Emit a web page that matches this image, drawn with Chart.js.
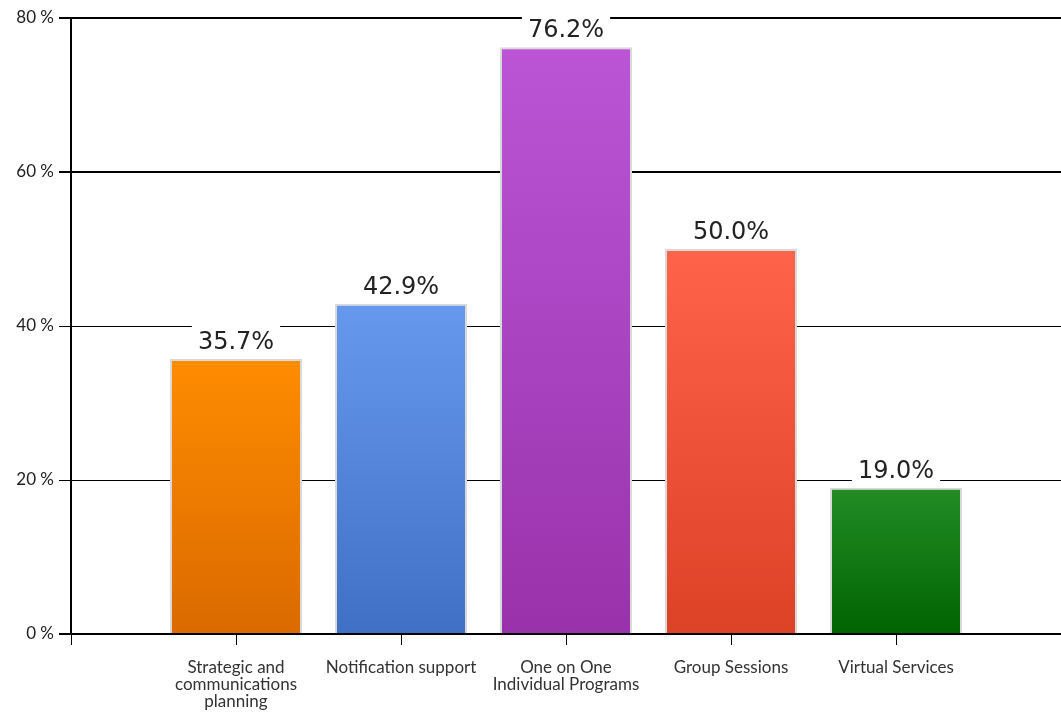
<!DOCTYPE html>
<html>
<head>
<meta charset="utf-8">
<script src="https://cdn.jsdelivr.net/npm/chart.js@4.4.1/dist/chart.umd.min.js"></script>
<style>
html,body{margin:0;padding:0;background:#fff;}
#wrap{width:1061px;height:713px;position:relative;}
</style>
</head>
<body>
<div id="wrap"><canvas id="c"></canvas></div>
<script>
// ---- data ----
const categories = [
  "",
  ["Strategic and", "communications", "planning"],
  "Notification support",
  ["One on One", "Individual Programs"],
  "Group Sessions",
  "Virtual Services",
  ""
];
const values = [null, 35.7, 42.9, 76.2, 50.0, 19.0, null];
const yTicks = [0, 20, 40, 60, 80];

// ---- styles ----
const topColors = [null, "#ff8c00", "#6699ee", "#bb55d6", "#ff634a", "#238c25", null];
const bottomColors = [null, "#da6a00", "#4070c6", "#9932aa", "#dc4226", "#006400", null];

const labelPlugin = {
  id: "valueLabels",
  afterDatasetsDraw(chart) {
    const ctx = chart.ctx;
    const meta = chart.getDatasetMeta(0);
    ctx.save();
    ctx.font = "24px 'DejaVu Sans'";
    ctx.textAlign = "center";
    ctx.textBaseline = "alphabetic";
    meta.data.forEach((bar, i) => {
      const v = values[i];
      if (v === null || v === undefined) return;
      const txt = v.toFixed(1) + "%";
      const w = ctx.measureText(txt).width;
      const baseY = bar.y - 10;
      ctx.fillStyle = "#ffffff";
      ctx.fillRect(bar.x - w / 2 - 6, baseY - 24, w + 12, 28);
      ctx.fillStyle = "#222222";
      ctx.fillText(txt, bar.x, baseY);
    });
    ctx.restore();
  }
};

new Chart(document.getElementById("c"), {
  type: "bar",
  data: {
    labels: categories,
    datasets: [{
      data: values,
      backgroundColor(ctx) {
        const chart = ctx.chart;
        const area = chart.chartArea;
        const i = ctx.dataIndex;
        if (!area || values[i] === null) return "#ccc";
        const yTop = chart.scales.y.getPixelForValue(values[i]);
        const g = chart.ctx.createLinearGradient(0, yTop, 0, area.bottom);
        g.addColorStop(0, topColors[i]);
        g.addColorStop(1, bottomColors[i]);
        return g;
      },
      borderColor: "#d9d9d9",
      borderWidth: 2,
      borderSkipped: "bottom",
      barPercentage: 0.8,
      categoryPercentage: 1.0
    }]
  },
  options: {
    responsive: true,
    maintainAspectRatio: false,
    animation: false,
    layout: { padding: { top: 18, right: 0, left: 0, bottom: 0 } },
    plugins: {
      legend: { display: false },
      tooltip: { enabled: false }
    },
    scales: {
      x: {
        offset: false,
        grid: {
          offset: false,
          drawOnChartArea: false,
          drawTicks: true,
          tickLength: 11,
          color: "#000",
          lineWidth: 1
        },
        border: { display: true, color: "#000", width: 2 },
        ticks: {
          autoSkip: false,
          maxRotation: 0,
          minRotation: 0,
          padding: 14,
          color: "#333",
          font: { family: "'Liberation Sans Narrow', 'Lato', sans-serif", size: 17, lineHeight: 1.0 }
        },
        afterFit(scale) {
          scale.height = 79;
          scale.paddingRight = 0;
          scale.paddingLeft = 0;
        }
      },
      y: {
        min: 0,
        max: 80,
        afterBuildTicks(scale) { scale.ticks = yTicks.map(v => ({ value: v })); },
        grid: {
          color: "#000",
          lineWidth(ctx) {
            const v = ctx.tick ? ctx.tick.value : 0;
            return (v === 0 || v === 60 || v === 80) ? 2 : 1;
          },
          drawTicks: true,
          tickLength: 12
        },
        border: { display: true, color: "#000", width: 2 },
        ticks: {
          padding: 5,
          color: "#222",
          font: { family: "'Liberation Sans Narrow', 'Lato', sans-serif", size: 17 },
          callback(v) { return v + " %"; }
        },
        afterFit(scale) { scale.width = 71; }
      }
    }
  },
  plugins: [labelPlugin]
});
</script>
</body>
</html>
